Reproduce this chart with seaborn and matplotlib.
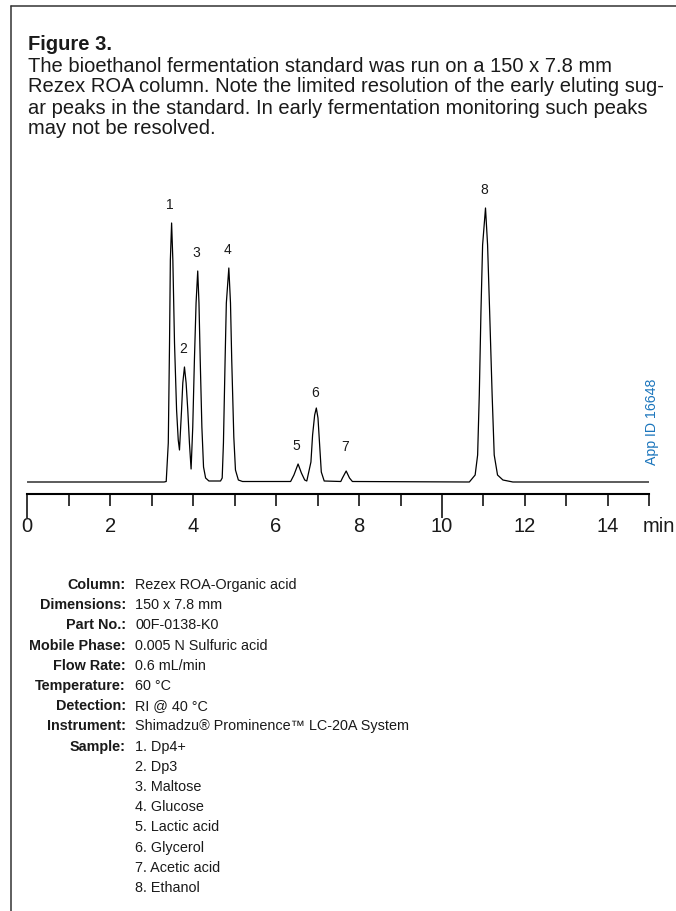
import matplotlib
matplotlib.use("Agg")
import matplotlib.pyplot as plt
from matplotlib import font_manager
from matplotlib.lines import Line2D
import seaborn as sns

# chromatogram trace (time in min, detector response in arbitrary units)
times = [0.00, 3.30, 3.35, 3.40, 3.43, 3.45, 3.48, 3.51, 3.55, 3.60, 3.64, 3.67,
         3.72, 3.75, 3.79, 3.83, 3.87, 3.91, 3.95, 3.99, 4.03, 4.07, 4.11, 4.14,
         4.17, 4.21, 4.25, 4.30, 4.38, 4.66, 4.70, 4.73, 4.77, 4.80, 4.86, 4.90,
         4.93, 4.98, 5.02, 5.09, 5.19, 6.35, 6.43, 6.53, 6.61, 6.69, 6.74, 6.84,
         6.88, 6.93, 6.97, 7.01, 7.05, 7.09, 7.16, 7.56, 7.60, 7.69, 7.77, 7.84,
         10.66, 10.80, 10.86, 10.90, 10.94, 10.98, 11.05, 11.10, 11.15, 11.21,
         11.26, 11.34, 11.47, 11.71, 15.00]
response = [0, 0, 0.5, 39, 139, 222, 259, 222, 139, 72, 42, 32,
            72, 99, 115, 99, 72, 39, 13, 55, 122, 179, 211, 179,
            122, 55, 15, 4, 1, 1, 4, 39, 122, 179, 214, 179,
            122, 45, 12, 2, 0.5, 0.5, 7, 18, 9, 2, 1, 20,
            47, 67, 74, 64, 37, 10, 1, 0.5, 4, 11, 4, 0.5,
            0, 7, 27, 87, 170, 237, 274, 237, 170, 87,
            27, 7, 2, 0, 0]

peak_ids = ["1", "2", "3", "4", "5", "6", "7", "8"]
peak_times = [3.48, 3.79, 4.11, 4.86, 6.53, 6.97, 7.69, 11.05]
peak_heights = [259, 115, 211, 214, 18, 74, 11, 274]

tick_labels = [0, 2, 4, 6, 8, 10, 12, 14]

title = "Figure 3."
caption = [
    "The bioethanol fermentation standard was run on a 150 x 7.8 mm",
    "Rezex ROA column. Note the limited resolution of the early eluting sug-",
    "ar peaks in the standard. In early fermentation monitoring such peaks",
    "may not be resolved.",
]

field_names = ["Column:", "Dimensions:", "Part No.:", "Mobile Phase:", "Flow Rate:",
               "Temperature:", "Detection:", "Instrument:", "Sample:"]
field_values = ["Rezex ROA-Organic acid", "150 x 7.8 mm", "00F-0138-K0",
                "0.005 N Sulfuric acid", "0.6 mL/min", "60 °C", "RI @ 40 °C",
                "Shimadzu® Prominence™ LC-20A System"]
sample_names = ["1. Dp4+", "2. Dp3", "3. Maltose", "4. Glucose", "5. Lactic acid",
                "6. Glycerol", "7. Acetic acid", "8. Ethanol"]

app_id = "App ID 16648"

sns.set_style("white")
plt.rcParams["font.family"] = ["Liberation Sans", "DejaVu Sans"]

installed = {f.name for f in font_manager.fontManager.ttflist}
if "Liberation Sans Narrow" in installed:
    table_font = ["Liberation Sans Narrow", "DejaVu Sans"]
    table_size = 12.4
else:
    table_font = ["Liberation Sans", "DejaVu Sans"]
    table_size = 10.4

W, H = 676, 911
fig = plt.figure(figsize=(W / 100, H / 100), dpi=100)
ink = "#1a1a1a"

def fx(px):
    return px / W

def fy(py):
    return 1 - py / H

# frame
fig.add_artist(Line2D([fx(11), fx(11)], [0, fy(6)], color="#333333", lw=1.1))
fig.add_artist(Line2D([fx(11), 1], [fy(6), fy(6)], color="#333333", lw=1.1))

# caption
fig.text(fx(28), fy(44), title, fontsize=14.5, fontweight="bold", color=ink, va="center")
for i, line in enumerate(caption):
    fig.text(fx(28), fy(66 + 21 * i), line, fontsize=14.5, color=ink, va="center")

# chromatogram axes: x from 0 to 15 min, bottom spine is the time axis
ax_left, ax_right, ax_bottom, ax_top = 27.3, 649.3, 494.3, 190
ax = fig.add_axes([fx(ax_left), fy(ax_bottom), (ax_right - ax_left) / W, (ax_bottom - ax_top) / H])
sns.lineplot(x=times, y=response, ax=ax, color="black", linewidth=0.9, estimator=None, sort=False)
ax.set_xlim(0, 15)
ax.set_ylim(-12.3, ax_bottom - ax_top - 12.3)
ax.set_facecolor("none")
for side in ["top", "left", "right"]:
    ax.spines[side].set_visible(False)
ax.spines["bottom"].set_linewidth(1.5)
ax.spines["bottom"].set_color("black")
ax.set_yticks([])
ax.set_xticks([0, 10])
ax.set_xticks([t for t in range(16) if t not in (0, 10)], minor=True)
ax.tick_params(axis="x", which="major", direction="out", length=17, width=1.1, color="black",
               labelbottom=False, bottom=True)
ax.tick_params(axis="x", which="minor", direction="out", length=8.3, width=1.1, color="black",
               bottom=True)
ax.set_xlabel("")
ax.set_ylabel("")

sec = ax.secondary_xaxis("bottom")
sec.set_xticks(tick_labels)
sec.set_xticklabels([str(t) for t in tick_labels])
sec.tick_params(length=0, pad=16, labelsize=14.5, labelcolor=ink)
sec.spines["bottom"].set_visible(False)
ax.annotate("min", xy=(1, 0), xycoords="axes fraction", xytext=(7, -16),
            textcoords="offset points", ha="center", va="top", fontsize=14.5, color=ink)

# peak numbers
extra = {"6": -2, "7": 4}
for pid, t, h in zip(peak_ids, peak_times, peak_heights):
    ax.annotate(pid, xy=(t, h), xytext=(-1, 8 + extra.get(pid, 0)), textcoords="offset points",
                ha="center", va="bottom", fontsize=10, color=ink)

fig.text(fx(652), fy(421.5), app_id, rotation=90, color="#1b75bc", fontsize=10.2,
         ha="center", va="center")

# conditions table
row0, pitch = 585, 20.2
for i, name in enumerate(field_names):
    fig.text(fx(126), fy(row0 + pitch * i), name, family=table_font, fontsize=table_size,
             fontweight="bold", color=ink, ha="right", va="center")
for i, val in enumerate(field_values):
    fig.text(fx(135), fy(row0 + pitch * i), val, family=table_font, fontsize=table_size,
             color=ink, ha="left", va="center")
start = len(field_names) - 1
for i, val in enumerate(sample_names):
    fig.text(fx(135), fy(row0 + pitch * (start + i)), val, family=table_font, fontsize=table_size,
             color=ink, ha="left", va="center")

fig.savefig("out.png", dpi=100)
